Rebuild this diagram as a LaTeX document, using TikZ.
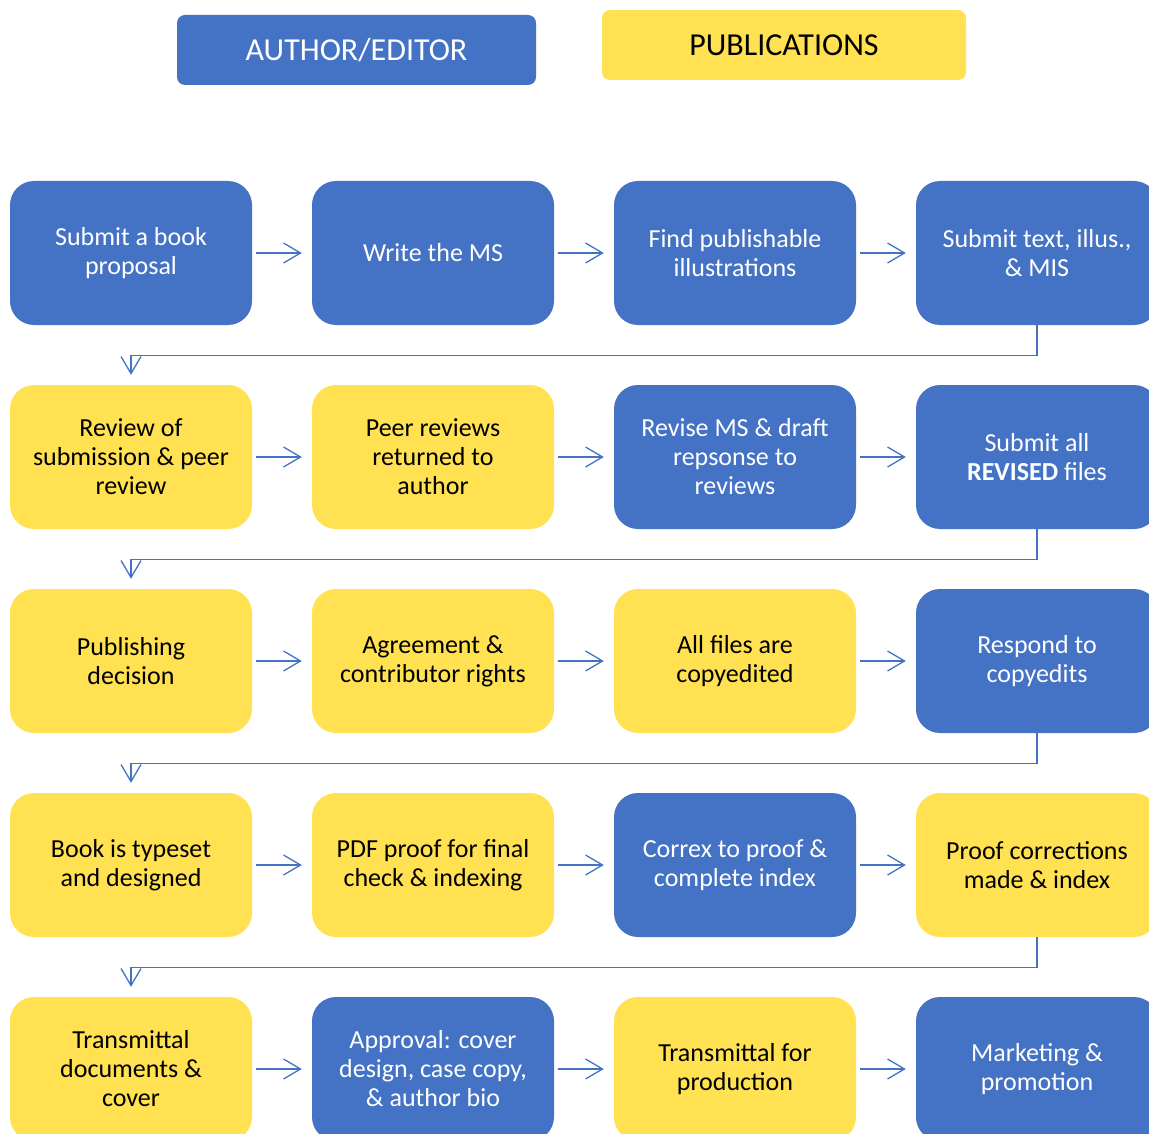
\documentclass[tikz,border=0pt]{standalone}
\usepackage{fontspec}
\setmainfont{Carlito}
\usetikzlibrary{arrows.meta}
\definecolor{authblue}{HTML}{4472C4}
\definecolor{pubyellow}{HTML}{FFE152}

\begin{document}
\begin{tikzpicture}[x=1pt, y=-1pt,
    every node/.append style={rounded corners=24pt, minimum width=242pt, minimum height=144pt,
        align=center, inner sep=0pt, font=\fontsize{26}{29}\selectfont},
    author/.style={fill=authblue, text=white},
    pub/.style={fill=pubyellow, text=black},
    head/.style={minimum height=70pt, rounded corners=8pt, font=\fontsize{32}{36}\selectfont},
    flow/.style={draw=authblue, line width=1.3pt, -{Straight Barb[length=17pt, width=20pt]}}]
    \useasboundingbox (0,0) rectangle (1149,1134);
    \node[author, head, minimum width=359pt] (authhead) at (356.5,50) {AUTHOR/EDITOR};
    \node[pub, head, minimum width=364pt] (pubhead) at (784,45) {PUBLICATIONS};

    \node[author] (b11) at (131,253) {Submit a book\\proposal};
    \node[author] (b12) at (433,253) {Write the MS};
    \node[author] (b13) at (735,253) {Find publishable\\illustrations};
    \node[author] (b14) at (1037,253) {Submit text, illus.,\\\& MIS};

    \node[pub] (b21) at (131,457) {Review of\\submission \& peer\\review};
    \node[pub] (b22) at (433,457) {Peer reviews\\returned to\\author};
    \node[author] (b23) at (735,457) {Revise MS \& draft\\repsonse to\\reviews};
    \node[author] (b24) at (1037,457) {Submit all\\\textbf{REVISED} files};

    \node[pub] (b31) at (131,661) {Publishing\\decision};
    \node[pub] (b32) at (433,661) {Agreement \&\\contributor rights};
    \node[pub] (b33) at (735,661) {All files are\\copyedited};
    \node[author] (b34) at (1037,661) {Respond to\\copyedits};

    \node[pub] (b41) at (131,865) {Book is typeset\\and designed};
    \node[pub] (b42) at (433,865) {PDF proof for final\\check \& indexing};
    \node[author] (b43) at (735,865) {Correx to proof \&\\complete index};
    \node[pub] (b44) at (1037,865) {Proof corrections\\made \& index};

    \node[pub] (b51) at (131,1069) {Transmittal\\documents \&\\cover};
    \node[author] (b52) at (433,1069) {Approval: cover\\design, case copy,\\\& author bio};
    \node[pub] (b53) at (735,1069) {Transmittal for\\production};
    \node[author] (b54) at (1037,1069) {Marketing \&\\promotion};

    \foreach \r in {1,...,5}{
        \foreach \c/\d in {1/2,2/3,3/4}{
            \draw[flow] ([xshift=4pt]b\r\c.east) -- ([xshift=-10pt]b\r\d.west);
        }
    }
    \foreach \r/\s in {1/2,2/3,3/4,4/5}{
        \draw[flow] (b\r4.south) -- ++(0,30) -| ([yshift=10pt]b\s1.north);
    }
\end{tikzpicture}
\end{document}
